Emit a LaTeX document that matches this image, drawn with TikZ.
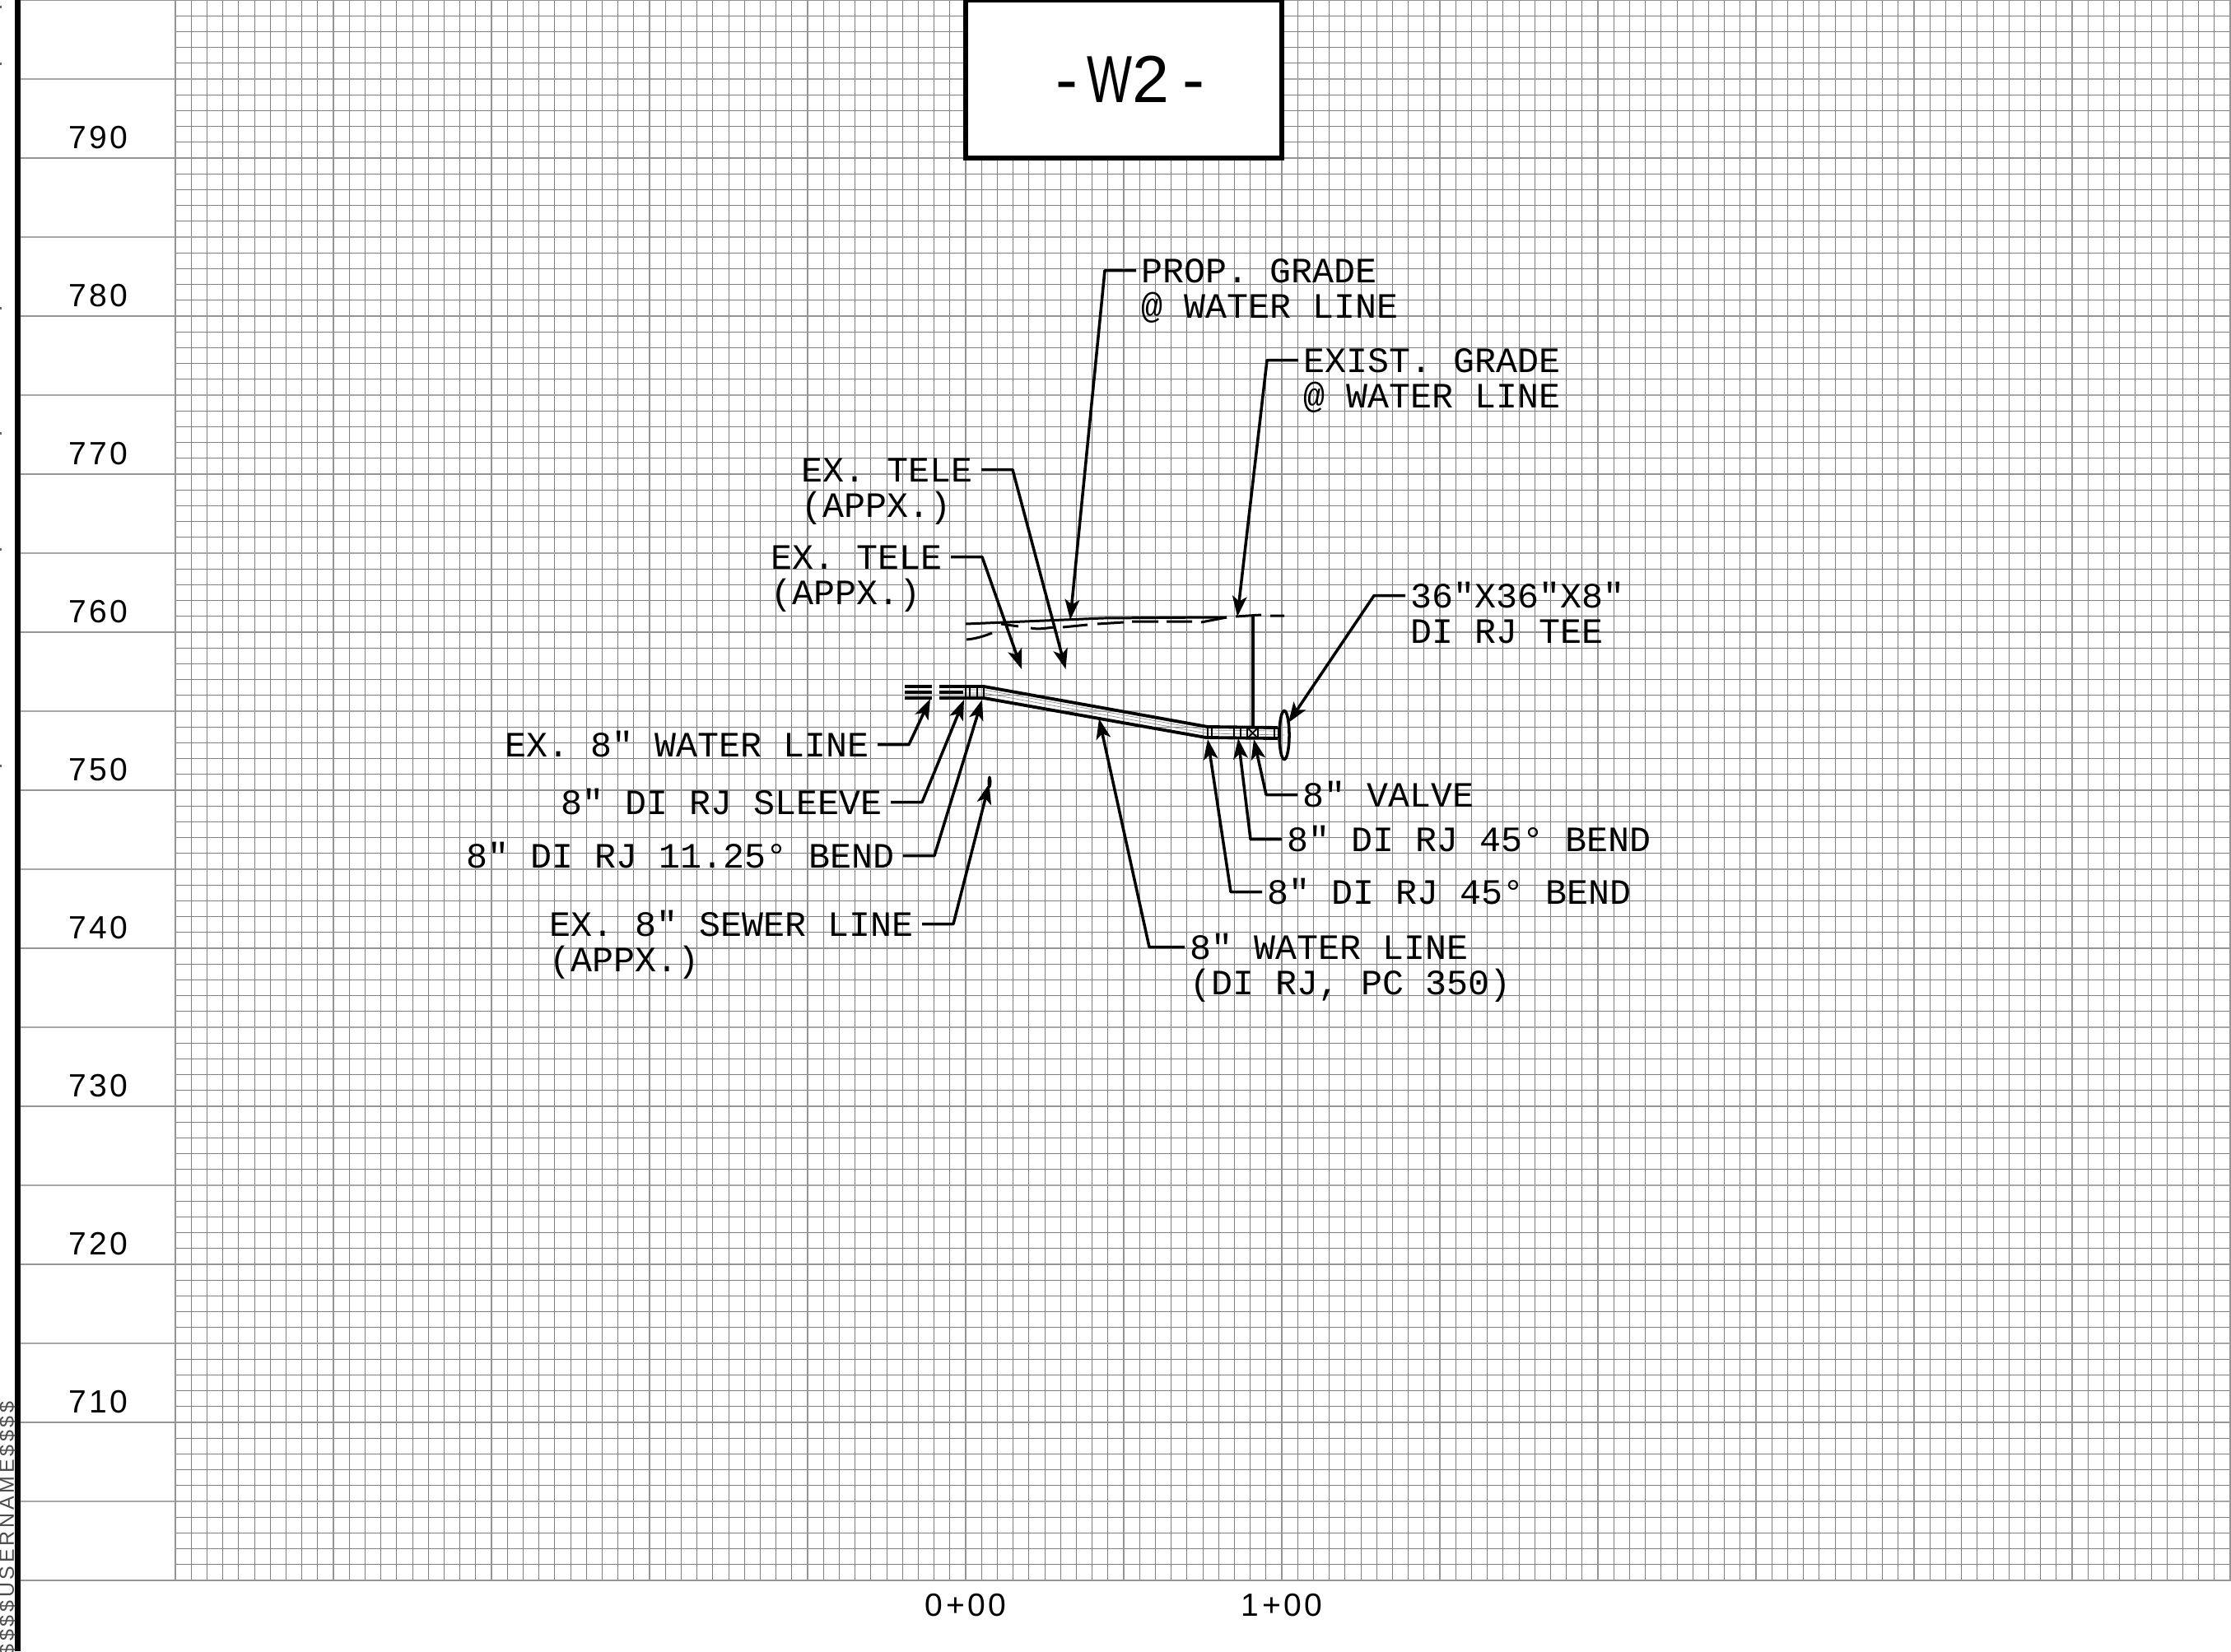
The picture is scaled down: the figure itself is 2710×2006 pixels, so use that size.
\documentclass[tikz,border=0pt]{standalone}
\usepackage{fontspec}
\setmainfont{Liberation Sans}
\newfontfamily\calloutfont{Liberation Mono}
\newfontfamily\tickfont[LetterSpace=8.7]{Liberation Sans}
\newfontfamily\userfont[LetterSpace=15]{Liberation Sans}
\usetikzlibrary{
  arrows.meta,
  shapes.geometric,
}
\tikzset{
  gridminor/.style={draw=black!50, line width=0.24pt},
  gridmedium/.style={draw=black!35, line width=0.42pt},
  gridmajor/.style={draw=black!42, line width=0.75pt},
  pipeline/.style={line width=1.1pt, line join=round},
  pipecentre/.style={draw=black!45, line width=0.2pt},
  fitting/.style={line width=0.8pt},
  gradeline/.style={line width=0.85pt},
  leader/.style={line width=1pt, line join=round, -{Stealth[length=7pt,width=5pt,inset=1.7pt]}},
  callout/.style={font=\calloutfont\fontsize{12.32}{14}\selectfont, inner ysep=0pt, text height=8.2pt, text depth=0pt},
  labelleft/.style={callout, inner xsep=2.85pt, anchor=base east},
  labelright/.style={callout, inner xsep=1.7pt, anchor=base west},
  elevtick/.style={font=\tickfont\fontsize{11.1}{13}\selectfont, inner sep=0pt, anchor=base},
}
\begin{document}
\begin{tikzpicture}[x=0.01cm, y=-0.01cm]
\useasboundingbox (0,0) rectangle (2710,2006);
\clip (0,0) rectangle (2710,2006);
\fill[white] (0,0) rectangle (2710,2006);
% profile grid
\foreach \k in {0,...,130} {
  \draw[gridminor] ({213+19.2*\k},0) -- ++(0,1920);
}
\foreach \k in {0,...,100} {
  \draw[gridminor] (213,{19.2*\k}) -- (2710,{19.2*\k});
}
\foreach \k in {0,...,20} {
  \draw[gridmedium] (25,{96*\k}) -- (2710,{96*\k});
}
\foreach \k in {0,...,13} {
  \draw[gridmajor] ({213+192*\k},0) -- ++(0,1920);
}
\foreach \k in {0,...,10} {
  \draw[gridmajor] (25,{192*\k}) -- (2710,{192*\k});
}
% left edge
\fill[black] (18,0) rectangle (24.5,2006);
\foreach \y in {7,76,373,525,666,929} {
  \fill[black!60] (0,\y) rectangle (2,\y+3);
}
\node[font=\userfont\fontsize{7.1}{9}\selectfont, text=black!70, inner sep=0pt, rotate=90, anchor=base west] (username) at (17,2012) {\$\$\$\$USERNAME\$\$\$\$};
% elevations and stations
\foreach \k in {0,...,8} {
  \pgfmathtruncatemacro{\elev}{790-10*\k}
  \node[elevtick] (elev\elev) at (119,{180+192*\k}) {\elev};
}
\node[elevtick] (sta0) at (1173,1963) {0+00};
\node[elevtick] (sta1) at (1557,1963) {1+00};
% title box
\node[draw, fill=white, line width=1.7pt, outer sep=0pt, minimum width=3.84cm, minimum height=1.92cm, inner sep=0pt, anchor=south west] (titlebox) at (1173,192) {};
\node[font=\fontsize{23}{26}\selectfont, inner sep=0pt, anchor=base] (titletext) at (1373,125) {-\kern3.1pt\scalebox{0.72}[1]{W}2\kern4.5pt-};
% grade lines
\draw[gradeline] (1173,758) -- (1340,751) -- (1472,750) -- (1490,750);
\draw[gradeline] (1174,777) .. controls (1185,776) and (1195,773) .. (1205,769)
  (1216,758) -- (1237,761)
  (1252,763) .. controls (1262,765) and (1270,763) .. (1281,762)
  (1291,762) -- (1321,759)
  (1333,758) -- (1365,756)
  (1375,755) -- (1407,755)
  (1417,755) -- (1448,755)
  (1459,756) -- (1490,750)
  (1501,749) -- (1532,747)
  (1543,748) -- (1560,748);
% water line
\foreach \y in {834,841,848} {
  \draw[line width=1pt] (1099,\y) -- (1132,\y) (1141,\y) -- (1170,\y);
}
\draw[pipeline] (1170,834) -- (1195,834) -- (1467,883) -- (1552,884);
\draw[pipeline] (1170,848) -- (1195,848) -- (1465,896) -- (1552,897);
\draw[pipecentre] (1170,838) -- (1195,838) -- (1466,887) -- (1552,888);
\draw[pipecentre] (1170,842) -- (1195,842) -- (1466,891) -- (1560,893);
\foreach \x in {1173,1178,1187,1195} {
  \draw[fitting] (\x,834) -- (\x,848);
}
\foreach \x in {1467,1472,1499,1507,1515,1528,1548,1553} {
  \draw[fitting] (\x,884) -- (\x,897);
}
\draw[line width=0.5pt] (1515,884) -- (1528,897) (1515,897) -- (1528,884);
\draw[line width=1.05pt] (1522,748) -- (1522,884);
\node[draw, line width=1pt, ellipse, minimum width=0.12cm, minimum height=0.59cm, inner sep=0pt] (teeend) at (1560,893) {};
\node[fill=black, ellipse, minimum width=0.05cm, minimum height=0.15cm, inner sep=0pt] (sewer) at (1202,950) {};
% arrow targets
\coordinate (tipProp) at (1300,753);
\coordinate (tipExist) at (1503,749);
\coordinate (tipTeleA) at (1294.5,813);
\coordinate (tipTeleB) at (1241,813);
\coordinate (tipTee) at (1565,878);
\coordinate (tipExWater) at (1130,849);
\coordinate (tipSleeve) at (1171,850);
\coordinate (tipBend) at (1193,850);
\coordinate (tipSewer) at (1201.5,952);
\coordinate (tipValve) at (1523,898);
\coordinate (tipBendA) at (1504,897);
\coordinate (tipBendB) at (1467,898);
\coordinate (tipWater) at (1335,873);
% callouts
\node[labelright] (lblProp) at (1380,343) {PROP. GRADE};
\node[labelright] (lblPropB) at ([yshift=-12.25pt]lblProp.base west) {@ WATER LINE};
\node[labelright] (lblExist) at (1577,452) {EXIST. GRADE};
\node[labelright] (lblExistB) at ([yshift=-12.25pt]lblExist.base west) {@ WATER LINE};
\node[labelleft] (lblTeleA) at (1192,585) {EX. TELE};
\node[labelleft, anchor=base west] (lblTeleAb) at ([yshift=-12.25pt]lblTeleA.base west) {(APPX.)};
\node[labelleft] (lblTeleB) at (1155,691) {EX. TELE};
\node[labelleft, anchor=base west] (lblTeleBb) at ([yshift=-12.25pt]lblTeleB.base west) {(APPX.)};
\node[labelright] (lblTee) at (1707,738) {36″X36″X8″};
\node[labelright] (lblTeeB) at ([yshift=-12.25pt]lblTee.base west) {DI RJ TEE};
\node[labelleft] (lblExWater) at (1066,919) {EX. 8″ WATER LINE};
\node[labelleft] (lblSleeve) at (1082,989) {8″ DI RJ SLEEVE};
\node[labelleft] (lblBend) at (1097,1054) {8″ DI RJ 11.25° BEND};
\node[labelleft] (lblSewer) at (1120,1137) {EX. 8″ SEWER LINE};
\node[labelleft, anchor=base west] (lblSewerB) at ([yshift=-12.25pt]lblSewer.base west) {(APPX.)};
\node[labelright] (lblValve) at (1576,980) {8″ VALVE};
\node[labelright] (lblBendA) at (1557,1034) {8″ DI RJ 45° BEND};
\node[labelright] (lblBendB) at (1533,1098) {8″ DI RJ 45° BEND};
\node[labelright] (lblWater) at (1439,1165) {8″ WATER LINE};
\node[labelright] (lblWaterB) at ([yshift=-12.25pt]lblWater.base west) {(DI RJ, PC 350)};
% leaders
\foreach \lbl/\tip in {lblProp/tipProp, lblExist/tipExist, lblTee/tipTee, lblValve/tipValve, lblBendA/tipBendA, lblBendB/tipBendB} {
  \draw[leader] (\lbl.west) -- ++(-38,0) -- (\tip);
}
\draw[leader] (lblWater.west) -- ++(-43,0) -- (tipWater);
\foreach \lbl/\tip in {lblTeleA/tipTeleA, lblTeleB/tipTeleB, lblExWater/tipExWater, lblSleeve/tipSleeve, lblBend/tipBend, lblSewer/tipSewer} {
  \draw[leader] (\lbl.east) -- ++(38,0) -- (\tip);
}
\end{tikzpicture}
\end{document}
